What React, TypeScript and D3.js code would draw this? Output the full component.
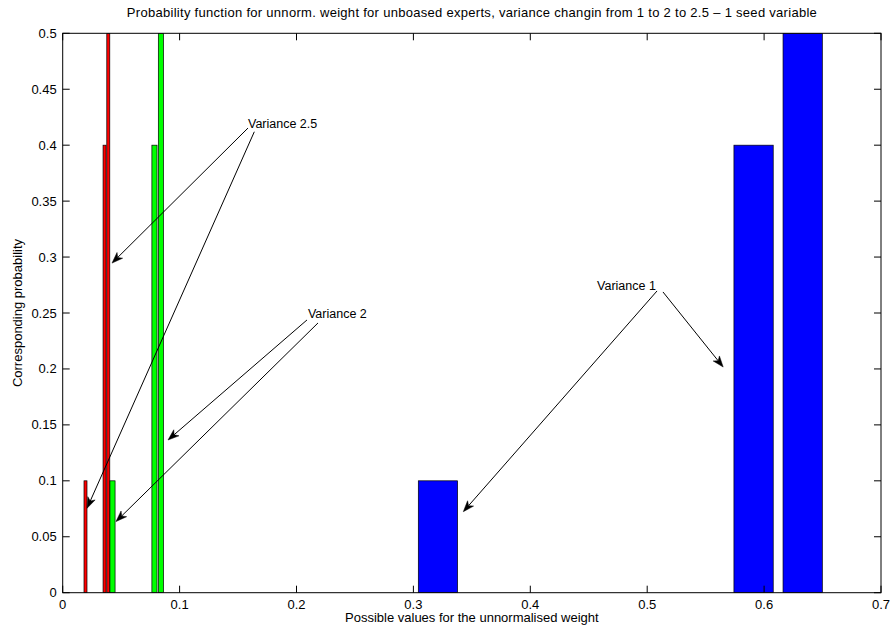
import React from "react";
import * as d3 from "d3";

// Possible weight values and their probabilities, one series per variance
const redX = [0.0195, 0.0358, 0.039];
const redP = [0.1, 0.4, 0.5];
const greenX = [0.0426, 0.0785, 0.084];
const greenP = [0.1, 0.4, 0.5];
const blueX = [0.321, 0.591, 0.633];
const blueP = [0.1, 0.4, 0.5];

const xTicks = [0, 0.1, 0.2, 0.3, 0.4, 0.5, 0.6, 0.7];
const yTicks = [0, 0.05, 0.1, 0.15, 0.2, 0.25, 0.3, 0.35, 0.4, 0.45, 0.5];

// Annotation labels (data coordinates) and the arrows leaving them
const labelText = ["Variance 2.5", "Variance 2", "Variance 1"];
const labelX = [0.1585, 0.2098, 0.4571];
const labelY = [0.4197, 0.2496, 0.2746];
const arrowFromX = [0.1585, 0.1639, 0.209, 0.2184, 0.5084, 0.5135];
const arrowFromY = [0.4153, 0.412, 0.2438, 0.2411, 0.2697, 0.2688];
const arrowToX = [0.0422, 0.0208, 0.0901, 0.0456, 0.3427, 0.565];
const arrowToY = [0.2946, 0.0754, 0.1365, 0.0636, 0.0724, 0.2017];

const W = 896;
const H = 635;
const M = { left: 62.7, right: 15, top: 33.3, bottom: 42.3 };
const FONT = "'Liberation Sans', Arial, Helvetica, sans-serif";

export default function App() {
  const x = d3.scaleLinear().domain([0, 0.7]).range([M.left, W - M.right]);
  const y = d3.scaleLinear().domain([0, 0.5]).range([H - M.bottom, M.top]);
  const [x0, x1] = x.range();
  const [y0, y1] = y.range();

  const series = [
    { xs: redX, ps: redP, fill: "#ff0000" },
    { xs: greenX, ps: greenP, fill: "#00ff00" },
    { xs: blueX, ps: blueP, fill: "#0000ff" },
  ];

  const bars = series.flatMap((s, si) => {
    const diffs = d3.pairs(s.xs).map(([a, b]) => b - a);
    const w = 0.8 * (d3.min(diffs) ?? 0.01);
    return s.xs.map((v, i) => {
      const left = x(v - w / 2);
      const right = x(v + w / 2);
      return (
        <rect
          key={`b${si}-${i}`}
          x={left}
          y={y(s.ps[i])}
          width={right - left}
          height={y(0) - y(s.ps[i])}
          fill={s.fill}
          stroke="#000"
          strokeWidth={0.7}
        />
      );
    });
  });

  const tickLen = 7;

  const arrows = arrowFromX.map((fx, i) => {
    const ax = x(fx);
    const ay = y(arrowFromY[i]);
    const bx = x(arrowToX[i]);
    const by = y(arrowToY[i]);
    const ang = Math.atan2(by - ay, bx - ax);
    const len = 11;
    const half = 4;
    const back = 8;
    const ux = Math.cos(ang);
    const uy = Math.sin(ang);
    const px = -uy;
    const py = ux;
    const baseX = bx - ux * len;
    const baseY = by - uy * len;
    const notchX = bx - ux * back;
    const notchY = by - uy * back;
    const head = `M${bx},${by} L${baseX + px * half},${baseY + py * half} L${notchX},${notchY} L${baseX - px * half},${baseY - py * half} Z`;
    return (
      <g key={`a${i}`}>
        <line x1={ax} y1={ay} x2={notchX} y2={notchY} stroke="#000" strokeWidth={1} />
        <path d={head} fill="#000" stroke="#000" strokeWidth={0.5} />
      </g>
    );
  });

  return (
    <svg
      width={W}
      height={H}
      style={{ position: "fixed", left: 0, top: 0, background: "#fff" }}
      fontFamily={FONT}
    >
      <rect x={0} y={0} width={W} height={H} fill="#fff" />
      <defs>
        <clipPath id="plotClip">
          <rect x={x0} y={y1} width={x1 - x0} height={y0 - y1} />
        </clipPath>
      </defs>

      <g clipPath="url(#plotClip)">{bars}</g>

      {/* axes box */}
      <rect x={x0} y={y1} width={x1 - x0} height={y0 - y1} fill="none" stroke="#000" strokeWidth={1} />

      {xTicks.map((t) => (
        <g key={`xt${t}`}>
          <line x1={x(t)} x2={x(t)} y1={y0} y2={y0 - tickLen} stroke="#000" />
          <line x1={x(t)} x2={x(t)} y1={y1} y2={y1 + tickLen} stroke="#000" />
          <text x={x(t)} y={y0 + 16} textAnchor="middle" fontSize={13} fill="#000">
            {d3.format("")(t)}
          </text>
        </g>
      ))}

      {yTicks.map((t) => (
        <g key={`yt${t}`}>
          <line x1={x0} x2={x0 + tickLen} y1={y(t)} y2={y(t)} stroke="#000" />
          <line x1={x1} x2={x1 - tickLen} y1={y(t)} y2={y(t)} stroke="#000" />
          <text x={x0 - 6} y={y(t)} dy="0.35em" textAnchor="end" fontSize={13} fill="#000">
            {d3.format("")(t)}
          </text>
        </g>
      ))}

      <text
        x={(x0 + x1) / 2}
        y={17}
        textAnchor="middle"
        fontSize={13}
        textLength={690}
        lengthAdjust="spacing"
        fill="#000"
      >
        Probability function for unnorm. weight for unboased experts, variance changin from 1 to 2 to 2.5 – 1 seed variable
      </text>
      <text x={(x0 + x1) / 2} y={H - 13} textAnchor="middle" fontSize={13} fill="#000">
        Possible values for the unnormalised weight
      </text>
      <text
        transform={`translate(22,${(y0 + y1) / 2}) rotate(-90)`}
        textAnchor="middle"
        fontSize={13}
        fill="#000"
      >
        Corresponding probability
      </text>

      {arrows}
      {labelText.map((t, i) => (
        <text key={t} x={x(labelX[i])} y={y(labelY[i])} dy="0.35em" fontSize={12.5} fill="#000">
          {t}
        </text>
      ))}
    </svg>
  );
}
